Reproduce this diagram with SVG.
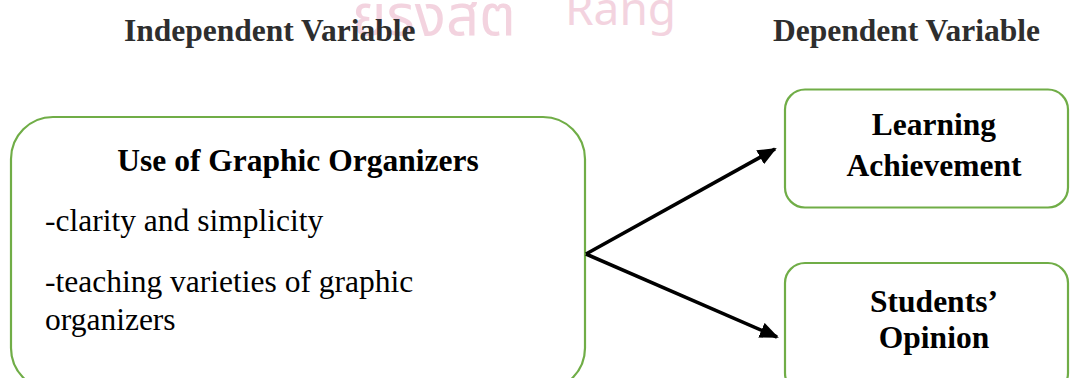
<svg xmlns="http://www.w3.org/2000/svg" width="1070" height="378" viewBox="0 0 1070 378">
  <style>
    .box { fill: #ffffff; stroke: #70AD47; stroke-width: 2.2; }
    .head { font-family: "Liberation Serif", "Times New Roman", serif; font-weight: bold; font-size: 31.5px; fill: #2e2e2e; }
    .title { font-family: "Liberation Serif", "Times New Roman", serif; font-weight: bold; font-size: 31.5px; fill: #000000; text-anchor: middle; }
    .body { font-family: "Liberation Serif", "Times New Roman", serif; font-size: 31.5px; fill: #000000; }
    .wm { font-family: "Noto Sans Thai", "Noto Sans", "DejaVu Sans", sans-serif; fill: #e8a8c0; opacity: 0.5; }
    .conn { stroke: #000000; stroke-width: 3.6; fill: none; }
  </style>
  <defs>
    <marker id="arrow" markerUnits="userSpaceOnUse" markerWidth="20" markerHeight="16" refX="17" refY="8" orient="auto">
      <path d="M0,0 L19,8 L0,16 z" fill="#000000"/>
    </marker>
  </defs>
  <rect width="1070" height="378" fill="#ffffff"/>

  <g id="watermark">
    <text class="wm" x="352" y="35" font-size="58">ยรังสิต</text>
    <text class="wm" x="565" y="25" font-size="46">Rang</text>
  </g>

  <g id="headers">
    <text class="head" x="124" y="41">Independent Variable</text>
    <text class="head" x="773" y="41">Dependent Variable</text>
  </g>

  <g id="node-independent">
    <rect class="box" x="11" y="117" width="574" height="273" rx="42" ry="42"/>
    <text class="title" x="298" y="171">Use of Graphic Organizers</text>
    <text class="body" x="45" y="231">-clarity and simplicity</text>
    <text class="body" x="45" y="292">-teaching varieties of graphic</text>
    <text class="body" x="45" y="330">organizers</text>
  </g>

  <g id="node-learning">
    <rect class="box" x="785" y="89.5" width="283" height="118" rx="20" ry="20"/>
    <text class="title" x="934" y="135">Learning</text>
    <text class="title" x="934" y="176">Achievement</text>
  </g>

  <g id="node-opinion">
    <rect class="box" x="785" y="263" width="283" height="130" rx="20" ry="20"/>
    <text class="title" x="934" y="312">Students’</text>
    <text class="title" x="934" y="348">Opinion</text>
  </g>

  <g id="connectors">
    <line class="conn" x1="586" y1="254" x2="775" y2="149" marker-end="url(#arrow)"/>
    <line class="conn" x1="586" y1="254" x2="777" y2="337" marker-end="url(#arrow)"/>
  </g>
</svg>
